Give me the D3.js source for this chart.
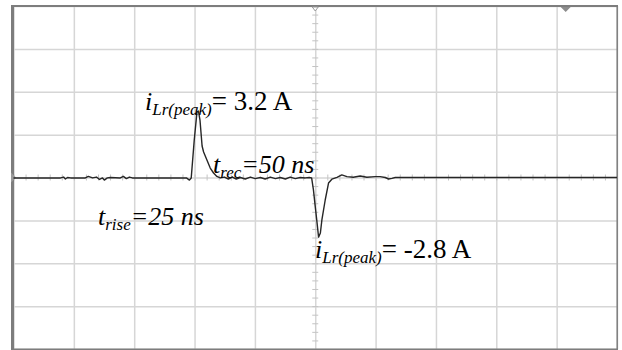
<!DOCTYPE html>
<head>
<meta charset="utf-8">
<script src="https://d3js.org/d3.v7.min.js"></script>
<style>
  body { margin: 0; background: #fff; }
  svg { display: block; }
</style>
</head>
<body>
<div id="scope"></div>
<script>
// time axis in ns (200 ns / div), current axis in A (2 A / div)
var tGrid = [-1000, -800, -600, -400, -200, 0, 200, 400, 600, 800, 1000]
var iGrid = [-8, -6, -4, -2, 0, 2, 4, 6, 8]

// trace
var traceT = [-1000,-844,-834,-828,-821,-811,-762,-752,-738,-725,-715,-705,-699,-689,-679,-646,-636,-626,-616,-606,
  -427,-417,-411,-401,-392,-387,-382,-375,-370,-359,-348,-337,-326,-315,-301,-288,-275,-262,-248,-232,-215,-199,
  -182,-166,-149,-132,-116,-99,-83,-66,-50,-33,-20,-12,-6,0,6,11,17,22,33,44,55,72,88,105,126,149,171,199,215,
  232,243,254,265,1000]
var traceI = [-0.02,-0.02,0.02,-0.07,0,-0.02,-0.02,0.05,-0.02,0.02,-0.09,-0.02,-0.12,-0.02,0,-0.02,0.05,-0.05,0.02,-0.02,
  -0.02,-0.12,-0.02,1.75,3.05,3.1,2.68,1.47,1.19,0.82,0.44,0.21,0.05,-0.02,0.02,-0.07,0.02,-0.07,0,-0.07,0.02,-0.05,
  0,-0.07,0.02,-0.05,0,-0.07,0.02,-0.05,0,-0.02,0,-0.02,-0.58,-1.36,-2.12,-2.78,-2.59,-1.98,-1.05,-0.26,-0.08,0.01,0.12,0.04,0.01,0.07,0.01,0.04,0.04,
  0,-0.07,-0.04,0,0]

// annotation texts: symbol, subscript, rest, rest italic?
var labelSym  = ["i", "t", "t", "i"]
var labelSub  = ["Lr(peak)", "rec", "rise", "Lr(peak)"]
var labelRest = ["= 3.2 A", "=50 ns", "=25 ns", "= -2.8 A"]
var labelItal = [false, true, true, false]

var W = 622, H = 350

var svg = d3.select("#scope")
  .append("svg")
    .attr("width", W)
    .attr("height", H)

var x = d3.scaleLinear().domain([-1000, 1000]).range([13.5, 617])
var y = d3.scaleLinear().domain([-8, 8]).range([349, 6])

// grid
svg.append("g")
  .attr("transform", "translate(0," + y(-8) + ")")
  .call(d3.axisBottom(x).tickValues(tGrid).tickSize(-(y(-8) - y(8))).tickFormat(""))
svg.append("g")
  .attr("transform", "translate(" + x(-1000) + ",0)")
  .call(d3.axisLeft(y).tickValues(iGrid).tickSize(-(x(1000) - x(-1000))).tickFormat(""))
svg.selectAll(".domain").remove()
svg.selectAll(".tick line").attr("stroke", "#d6d6d6").attr("stroke-width", 1.5)

// minor ticks on the centre axes
var minorT = d3.range(-1000, 1001, 40)
var minorI = d3.range(-80, 81, 4).map(function(d) { return d / 10 })
svg.append("g")
  .attr("class", "minor")
  .attr("transform", "translate(0," + (y(0) - 3) + ")")
  .call(d3.axisBottom(x).tickValues(minorT).tickSize(6).tickFormat(""))
svg.append("g")
  .attr("class", "minor")
  .attr("transform", "translate(" + (x(0) - 3) + ",0)")
  .call(d3.axisRight(y).tickValues(minorI).tickSize(6).tickFormat(""))
svg.selectAll(".minor .domain").remove()
svg.selectAll(".minor .tick line").attr("stroke", "#c4c4c4").attr("stroke-width", 1)

// frame
var fr = svg.append("g").attr("stroke", "#7d7d7d").attr("fill", "none")
fr.append("line").attr("x1", 12.5).attr("x2", 12.5).attr("y1", 5).attr("y2", 350).attr("stroke-width", 3)
fr.append("line").attr("x1", 11).attr("x2", 618).attr("y1", 6).attr("y2", 6).attr("stroke-width", 2)
fr.append("line").attr("x1", 617.2).attr("x2", 617.2).attr("y1", 5).attr("y2", 350).attr("stroke-width", 1.5)
fr.append("line").attr("x1", 11).attr("x2", 618).attr("y1", 349.2).attr("y2", 349.2).attr("stroke-width", 1.5)

// scope markers: trigger position, trigger level, ground
svg.append("path")
  .attr("d", "M" + (x(0) - 3) + ",7 L" + x(0) + ",11 L" + (x(0) + 3) + ",7 Z")
  .attr("fill", "#fff").attr("stroke", "#9a9a9a")
svg.append("path")
  .attr("d", "M" + (x(830) - 5) + ",7 L" + x(830) + ",12 L" + (x(830) + 5) + ",7 Z")
  .attr("fill", "#8c8c8c")
svg.append("path")
  .attr("d", "M11," + (y(0) - 5) + " L16," + y(0) + " L11," + (y(0) + 5) + " Z")
  .attr("fill", "#9a9a9a")

// trace
var trace = traceT.map(function(t, k) { return [t, traceI[k]] })
svg.append("path")
  .datum(trace)
  .attr("d", d3.line()
    .x(function(d) { return x(d[0]) })
    .y(function(d) { return y(d[1]) }))
  .attr("fill", "none")
  .attr("stroke", "#262626")
  .attr("stroke-width", 1.4)
  .attr("stroke-linejoin", "round")

// annotations
var labelXY = [[145, 110], [213, 173], [98, 225], [315, 258]]
labelSym.forEach(function(s, k) {
  var txt = svg.append("text")
    .attr("x", labelXY[k][0])
    .attr("y", labelXY[k][1])
    .style("font-family", "'Liberation Serif'")
    .style("fill", "#000")
  txt.append("tspan").style("font-style", "italic").style("font-size", "26px").text(s)
  txt.append("tspan").style("font-style", "italic").style("font-size", "17px").attr("dy", 5).text(labelSub[k])
  txt.append("tspan")
    .style("font-style", labelItal[k] ? "italic" : "normal")
    .style("font-size", labelItal[k] ? "26px" : "27px")
    .attr("dy", -5)
    .text(labelRest[k])
})
</script>
</body>
